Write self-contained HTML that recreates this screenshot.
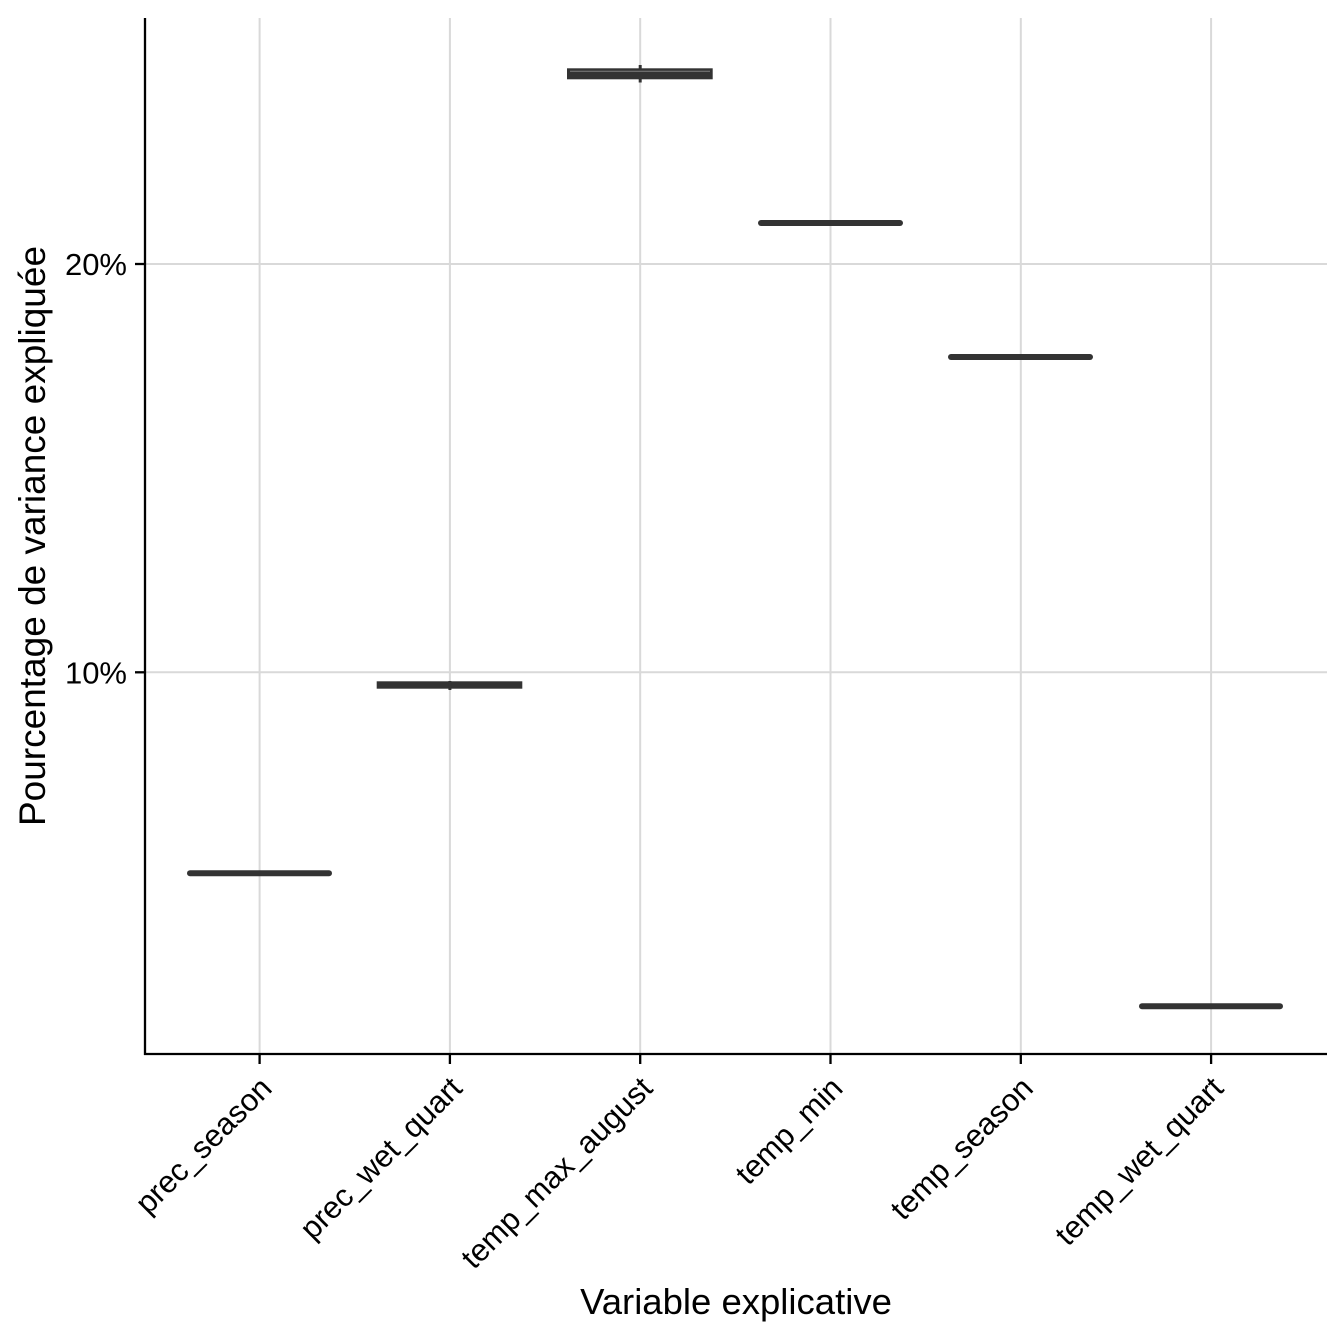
<!DOCTYPE html>
<html>
<head>
<meta charset="utf-8">
<style>
html,body{margin:0;padding:0;background:#fff;}
svg{display:block;}
text{font-family:"Liberation Sans","DejaVu Sans",sans-serif;fill:#000;}
</style>
</head>
<body>
<svg width="1344" height="1344" viewBox="0 0 1344 1344" xmlns="http://www.w3.org/2000/svg">
<rect x="0" y="0" width="1344" height="1344" fill="#fff"/>
<!-- gridlines -->
<g stroke="#d9d9d9" stroke-width="2">
<line x1="145" y1="264" x2="1327" y2="264"/>
<line x1="145" y1="672.3" x2="1327" y2="672.3"/>
<line x1="259.6" y1="18" x2="259.6" y2="1054"/>
<line x1="449.9" y1="18" x2="449.9" y2="1054"/>
<line x1="640.2" y1="18" x2="640.2" y2="1054"/>
<line x1="830.5" y1="18" x2="830.5" y2="1054"/>
<line x1="1020.8" y1="18" x2="1020.8" y2="1054"/>
<line x1="1211.1" y1="18" x2="1211.1" y2="1054"/>
</g>
<!-- boxes -->
<g stroke="#333333" stroke-linecap="round" stroke-width="6">
<line x1="190" y1="873.3" x2="329" y2="873.3"/>
<line x1="761" y1="223" x2="900" y2="223"/>
<line x1="951" y1="357" x2="1090" y2="357"/>
<line x1="1142" y1="1006.3" x2="1280" y2="1006.3"/>
</g>
<!-- prec_wet_quart -->
<rect x="376.7" y="681.3" width="145.6" height="7.4" fill="#333333"/>
<line x1="449.9" y1="681" x2="449.9" y2="690" stroke="#333333" stroke-width="3"/>
<!-- temp_max_august -->
<line x1="640.2" y1="65" x2="640.2" y2="82.5" stroke="#333333" stroke-width="3"/>
<rect x="567" y="68.3" width="145.7" height="11" fill="#333333"/>
<line x1="570" y1="71.3" x2="710" y2="71.3" stroke="#808080" stroke-width="1"/>
<!-- axes -->
<g stroke="#000" stroke-width="2.3">
<line x1="145" y1="18" x2="145" y2="1055"/>
<line x1="144" y1="1054" x2="1327" y2="1054"/>
<line x1="135" y1="264" x2="145" y2="264"/>
<line x1="135" y1="672.3" x2="145" y2="672.3"/>
<line x1="259.6" y1="1054" x2="259.6" y2="1064"/>
<line x1="449.9" y1="1054" x2="449.9" y2="1064"/>
<line x1="640.2" y1="1054" x2="640.2" y2="1064"/>
<line x1="830.5" y1="1054" x2="830.5" y2="1064"/>
<line x1="1020.8" y1="1054" x2="1020.8" y2="1064"/>
<line x1="1211.1" y1="1054" x2="1211.1" y2="1064"/>
</g>
<!-- y tick labels -->
<g font-size="31" text-anchor="end">
<text x="127" y="275">20%</text>
<text x="127" y="683.3">10%</text>
</g>
<!-- x tick labels -->
<g font-size="31" text-anchor="end">
<text transform="translate(273.6,1090) rotate(-45)">prec_season</text>
<text transform="translate(463.9,1090) rotate(-45)">prec_wet_quart</text>
<text transform="translate(654.2,1090) rotate(-45)">temp_max_august</text>
<text transform="translate(844.5,1090) rotate(-45)">temp_min</text>
<text transform="translate(1034.8,1090) rotate(-45)">temp_season</text>
<text transform="translate(1225.1,1090) rotate(-45)">temp_wet_quart</text>
</g>
<!-- axis titles -->
<text x="736" y="1314" font-size="36.5" text-anchor="middle">Variable explicative</text>
<text transform="translate(45,536) rotate(-90)" font-size="37" text-anchor="middle">Pourcentage de variance expliquée</text>
</svg>
</body>
</html>
